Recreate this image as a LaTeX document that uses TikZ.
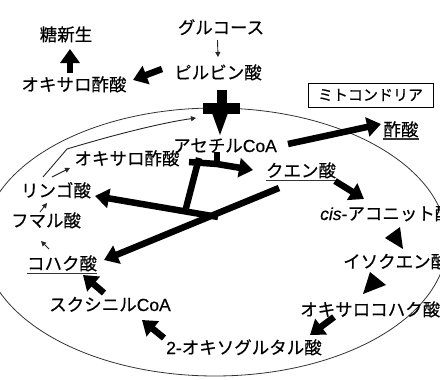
\documentclass[tikz,border=0pt]{standalone}
\usepackage{fontspec}
\setmainfont{Noto Sans CJK JP}[FakeBold=0.35]
\newfontfamily\lat{Liberation Sans}[FakeBold=0.35]
\usetikzlibrary{arrows.meta}
\begin{document}
\begin{tikzpicture}[x=1pt,y=-1pt,
  lbl/.style={inner sep=0pt,anchor=base,font=\fontsize{17.5}{20}\selectfont,text=black},
  lblw/.style={lbl,anchor=base west},
  fat/.style={line width=6.5pt,-{Triangle[length=14pt,width=19pt]}},
  slim/.style={line width=0.9pt,black!85,-{Triangle[length=5pt,width=5pt]}},
  uline/.style={line width=1.1pt,black!80},
  ]
\clip (0,0) rectangle (440,380);
\fill[white] (0,0) rectangle (440,380);
% mitochondrion
\draw[line width=0.8pt,black!80] (215,242) ellipse [x radius=232pt, y radius=134pt];
\node[draw,line width=0.8pt,inner sep=0pt,minimum width=125pt,minimum height=24pt,font=\fontsize{15}{18}\selectfont] (mito) at (370.5,95) {ミトコンドリア};
% labels
\node[lbl] (tou) at (66,41) {糖新生};
\node[lbl] (oxa1) at (74,91) {オキサロ酢酸};
\node[lbl] (glu) at (221,34) {グルコース};
\node[lbl] (pyr) at (218,79) {ピルビン酸};
\node[lbl] (ace) at (401,136) {酢酸};
\node[lbl] (acoa) at (225,152) {アセチル{\lat CoA}};
\node[lbl] (oxa2) at (127,165) {オキサロ酢酸};
\node[lbl] (cit) at (301,177) {クエン酸};
\node[lbl] (mal) at (56,197) {リンゴ酸};
\node[lbl] (fum) at (46,227) {フマル酸};
\node[lbl] (suc) at (62,270) {コハク酸};
\node[lblw] (cis) at (320,220) {{\lat\itshape cis}{\lat -}アコニット酸};
\node[lblw] (iso) at (343,268) {イソクエン酸};
\node[lblw] (oxs) at (300,316) {オキサロコハク酸};
\node[lbl] (okg) at (244,354) {{\lat 2-}オキソグルタル酸};
\node[lbl] (scoa) at (110,311) {スクシニル{\lat CoA}};
% underlines
\draw[uline] ([yshift=-3pt]ace.base west) -- ([yshift=-3pt]ace.base east);
\draw[uline] ([yshift=-3.5pt]cit.base west) -- ([yshift=-3.5pt]cit.base east);
\draw[uline] ([yshift=-3.5pt]suc.base west) -- ([yshift=-3.5pt]suc.base east);
% thin arrows
\coordinate (g1) at (217.5,40); \coordinate (g2) at (218,57);
\draw[slim] (g1) -- (g2);
\coordinate (m1) at (52,177); \coordinate (m2) at (70,168);
\draw[slim] (m1) -- (m2);
\coordinate (f1) at (40,212); \coordinate (f2) at (47,203);
\draw[slim] (f1) -- (f2);
\coordinate (s1) at (49,249); \coordinate (s2) at (41,241);
\draw[slim] (s1) -- (s2);
\coordinate (l1) at (43,177); \coordinate (l2) at (67,149); \coordinate (l3) at (196,118);
\draw[slim] (l1) -- (l2) .. controls (110,136) and (160,123) .. (l3);
% block with arrow to acetyl-CoA
\fill (217,90) rectangle (227,114);
\fill (203,103) rectangle (240,114);
\coordinate (b1) at (212,113); \coordinate (b2) at (228,113); \coordinate (b3) at (220,135);
\fill (b1) -- (b2) -- (b3) -- cycle;
% thick arrows
\coordinate (a1s) at (162,69); \coordinate (a1e) at (133,80);
\draw[fat] (a1s) -- (a1e);
\coordinate (a2s) at (70,73); \coordinate (a2e) at (70,49);
\draw[fat] (a2s) -- (a2e);
\coordinate (a4s) at (288,144); \coordinate (a4e) at (381,124);
\draw[fat] (a4s) -- (a4e);
\coordinate (a5a) at (189,162); \coordinate (a5b) at (217,164); \coordinate (a5e) at (253,170);
\draw[fat] (a5a) -- (a5b) -- (a5e);
\coordinate (a5t) at (217,152);
\draw[line width=6.5pt] (a5t) -- (a5b);
\coordinate (stA) at (199,158); \coordinate (stB) at (185,212);
\draw[line width=6.5pt] (stA) -- (stB);
\coordinate (L2s) at (218,217); \coordinate (L2e) at (95,196);
\draw[fat] (L2s) -- (L2e);
\coordinate (L1s) at (279,188); \coordinate (L1e) at (104,260);
\draw[fat] (L1s) -- (L1e);
\coordinate (a9s) at (335,181); \coordinate (a9e) at (364,199);
\draw[fat] (a9s) -- (a9e);
\coordinate (t1a) at (385,238); \coordinate (t1b) at (400,227); \coordinate (t1c) at (403,249);
\fill (t1a) -- (t1b) -- (t1c) -- cycle;
\coordinate (t2a) at (370,272); \coordinate (t2b) at (386,285); \coordinate (t2c) at (363,294);
\fill (t2a) -- (t2b) -- (t2c) -- cycle;
\coordinate (a12s) at (334,317); \coordinate (a12e) at (310,335);
\draw[fat] (a12s) -- (a12e);
\coordinate (a13s) at (164,338); \coordinate (a13e) at (142,320);
\draw[fat] (a13s) -- (a13e);
\coordinate (a14s) at (104,293); \coordinate (a14e) at (83,275);
\draw[fat] (a14s) -- (a14e);
\end{tikzpicture}
\end{document}
